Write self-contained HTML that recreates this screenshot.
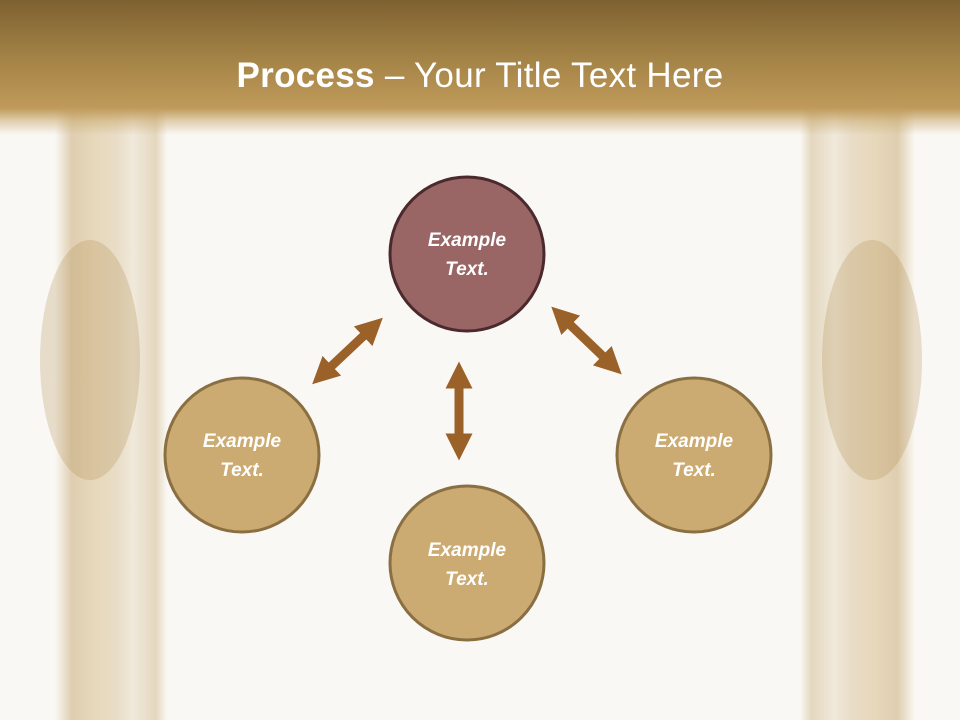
<!DOCTYPE html>
<html><head><meta charset="utf-8"><style>
body{margin:0;width:960px;height:720px;overflow:hidden;background:#faf8f4;font-family:"Liberation Sans",sans-serif;position:relative}
.hdr{position:absolute;left:0;top:0;width:960px;height:135px;background:linear-gradient(#7d6130 0%,#a58447 45%,#bf9a5a 80%,rgba(200,170,110,0.5) 90%,rgba(250,248,244,0) 100%)}
.title{position:absolute;left:0;width:960px;top:56px;text-align:center;color:#fff;font-size:35px;letter-spacing:0.3px}
.frame{position:absolute;top:110px;height:610px;}
</style></head><body>
<div class="frame" style="left:55px;width:112px;background:linear-gradient(90deg,rgba(190,160,100,0) 0%,rgba(190,155,95,.45) 15%,rgba(215,190,140,.55) 35%,rgba(200,170,115,.35) 55%,rgba(225,210,180,.4) 70%,rgba(200,175,125,.45) 90%,rgba(200,175,125,0) 100%)"></div>
<div class="frame" style="left:800px;width:115px;background:linear-gradient(90deg,rgba(200,175,125,0) 0%,rgba(200,175,125,.45) 10%,rgba(225,210,180,.4) 30%,rgba(200,170,115,.35) 45%,rgba(215,190,140,.55) 65%,rgba(190,155,95,.45) 85%,rgba(190,160,100,0) 100%)"></div>
<div style="position:absolute;left:40px;top:240px;width:100px;height:240px;border-radius:50%;background:rgba(170,135,70,.25)"></div>
<div style="position:absolute;left:822px;top:240px;width:100px;height:240px;border-radius:50%;background:rgba(170,135,70,.25)"></div>
<div class="hdr"></div>
<div class="title"><b>Process</b> – Your Title Text Here</div>
<svg width="960" height="720" style="position:absolute;left:0;top:0">
<defs><marker id="a" markerWidth="3" markerHeight="3" refX="1.5" refY="1.5" orient="auto-start-reverse" markerUnits="strokeWidth"><path d="M0,0L3,1.5L0,3z" fill="#9a6129"/></marker></defs>
<g stroke="#9a6129" stroke-width="9" marker-start="url(#a)" marker-end="url(#a)">
<line x1="322" y1="375" x2="373" y2="327"/>
<line x1="459" y1="375" x2="459" y2="447"/>
<line x1="561" y1="316" x2="612" y2="365"/>
</g>
<g font-family="Liberation Sans,sans-serif" font-style="italic" font-weight="bold" font-size="19" fill="#fff" text-anchor="middle">
<circle cx="467" cy="254" r="77" fill="#9a6565" stroke="#4a2a2c" stroke-width="3"/>
<text x="467" y="246">Example</text><text x="467" y="275">Text.</text>
<circle cx="242" cy="455" r="77" fill="#ccab72" stroke="#8a6f42" stroke-width="3"/>
<text x="242" y="447">Example</text><text x="242" y="476">Text.</text>
<circle cx="467" cy="563" r="77" fill="#ccab72" stroke="#8a6f42" stroke-width="3"/>
<text x="467" y="556">Example</text><text x="467" y="585">Text.</text>
<circle cx="694" cy="455" r="77" fill="#ccab72" stroke="#8a6f42" stroke-width="3"/>
<text x="694" y="447">Example</text><text x="694" y="476">Text.</text>
</g></svg>
</body></html>
